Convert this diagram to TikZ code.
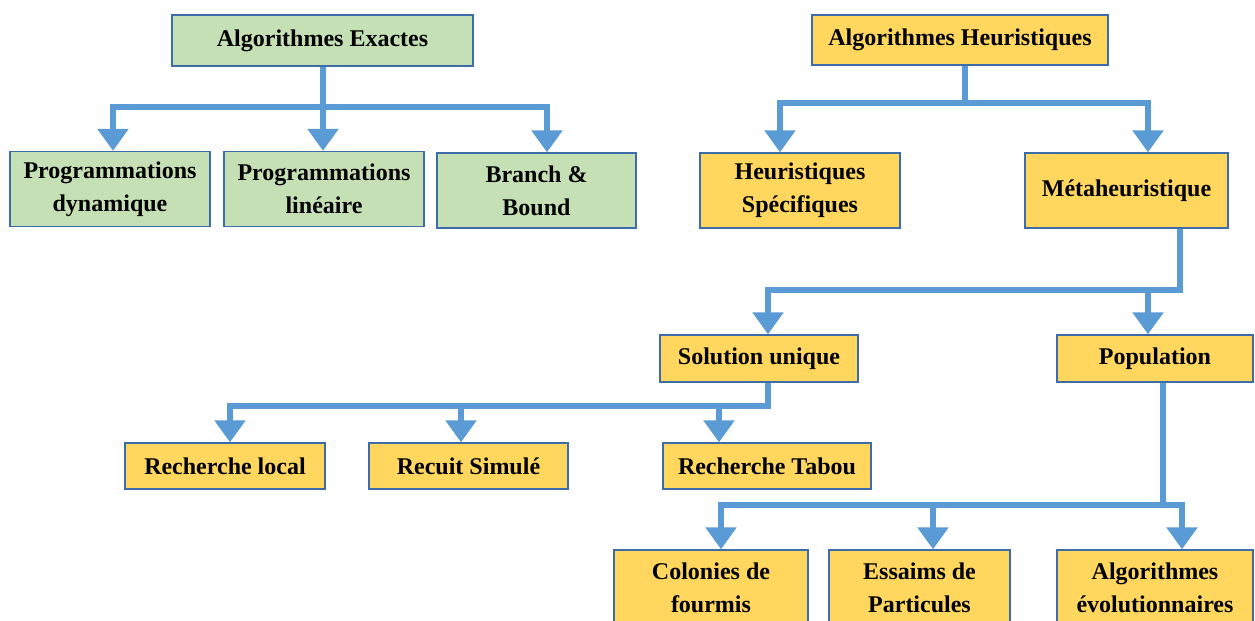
\documentclass[tikz,border=0pt]{standalone}
\usepackage{fontspec}
\setmainfont{Liberation Serif}
\usetikzlibrary{arrows.meta}
\definecolor{yfill}{HTML}{FFD75F}
\definecolor{gfill}{HTML}{C6E0B5}
\definecolor{bord}{HTML}{3E6CA8}
\definecolor{arrc}{HTML}{5B9BD5}
\tikzset{
  bx/.style={draw=bord, line width=0.7pt, align=center, inner sep=0pt,
    font=\fontsize{12}{16.5}\selectfont\bfseries},
  ybox/.style={bx, fill=yfill},
  gbox/.style={bx, fill=gfill},
  ln/.style={draw=arrc, line width=3pt},
  arr/.style={ln, -{Triangle[width=15pt,length=11pt]}},
}
\begin{document}
\begin{tikzpicture}[x=0.5pt,y=-0.5pt]
\clip (0,0) rectangle (1255,621);
\fill[white] (0,0) rectangle (1255,621);
% Exact algorithms
\node[gbox, minimum width=150.5pt, minimum height=25.5pt] (ae) at (322.5,40.5) {Algorithmes Exactes};
\node[gbox, minimum width=100pt, minimum height=37.5pt] (pd) at (110,189) {Programmations\\dynamique};
\node[gbox, minimum width=100pt, minimum height=37.5pt] (pl) at (324,189) {Programmations\\linéaire};
\node[gbox, minimum width=99.5pt, minimum height=37.5pt] (bb) at (536.5,190.5) {Branch \&\\Bound};
% Heuristics
\node[ybox, minimum width=148pt, minimum height=25pt] (ah) at (960,40) {Algorithmes Heuristiques};
\node[ybox, minimum width=100pt, minimum height=37.5pt] (hs) at (800,190.5) {Heuristiques\\Spécifiques};
\node[ybox, minimum width=101.5pt, minimum height=37.5pt] (mh) at (1126.5,190.5) {Métaheuristique};
\node[ybox, minimum width=99pt, minimum height=23.5pt] (su) at (759,358.5) {Solution unique};
\node[ybox, minimum width=98pt, minimum height=23.5pt] (pop) at (1155,358.5) {Population};
\node[ybox, minimum width=100pt, minimum height=23pt] (rl) at (225,466) {Recherche local};
\node[ybox, minimum width=99.5pt, minimum height=23pt] (rs) at (468.5,466) {Recuit Simulé};
\node[ybox, minimum width=104pt, minimum height=23pt] (rt) at (767,466) {Recherche Tabou};
\node[ybox, minimum width=97pt, minimum height=38pt] (cf) at (711,588) {Colonies de\\fourmis};
\node[ybox, minimum width=90.5pt, minimum height=38pt] (ep) at (919.5,588) {Essaims de\\Particules};
\node[ybox, minimum width=98pt, minimum height=38pt] (aev) at (1155,588) {Algorithmes\\évolutionnaires};
% junctions
\coordinate (jae) at (323,107);
\coordinate (jah) at (965,103);
\coordinate (jmh) at (1180,290);
\coordinate (jsu) at (768,406);
\coordinate (jpop) at (1163,505);
% connectors
\draw[ln] ([xshift=0.25pt]ae.south) -- (jae);
\draw[arr] (jae) -| ([xshift=1.5pt]pd.north);
\draw[arr] (jae) -| ([xshift=-0.5pt]pl.north);
\draw[arr] (jae) -| ([xshift=5.25pt]bb.north);
\draw[ln] ([xshift=2.5pt]ah.south) -- (jah);
\draw[arr] (jah) -| ([xshift=-10pt]hs.north);
\draw[arr] (jah) -| ([xshift=10.75pt]mh.north);
\draw[arr] ([xshift=26.75pt]mh.south) -- (jmh) -| ([xshift=4.5pt]su.north);
\draw[arr] (jmh) -| ([xshift=-3.5pt]pop.north);
\draw[arr] ([xshift=4.5pt]su.south) -- (jsu) -| ([xshift=2.5pt]rl.north);
\draw[arr] (jsu) -| ([xshift=-3.75pt]rs.north);
\draw[arr] (jsu) -| ([xshift=-24pt]rt.north);
\draw[ln] ([xshift=4pt]pop.south) -- (jpop);
\draw[arr] (jpop) -| ([xshift=5pt]cf.north);
\draw[arr] (jpop) -| ([xshift=6.75pt]ep.north);
\draw[arr] (jpop) -| ([xshift=13.5pt]aev.north);
\end{tikzpicture}
\end{document}
